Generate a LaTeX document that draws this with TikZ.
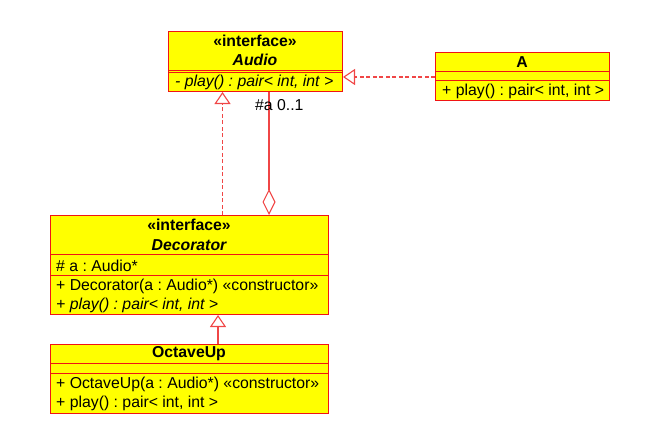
\documentclass[tikz,border=0pt]{standalone}
\usepackage{fontspec}
\setmainfont{Liberation Sans}
\usetikzlibrary{arrows.meta}
\definecolor{umlfill}{RGB}{255,255,0}
\definecolor{umlline}{RGB}{240,20,20}
\definecolor{conn}{RGB}{240,70,70}
\frenchspacing
\begin{document}
\begin{tikzpicture}[x=1pt,y=-1pt,
  box/.style={draw=umlline,fill=umlfill,line width=1pt,inner sep=0pt,anchor=north west},
  sep/.style={draw=umlline,line width=1pt},
  txt/.style={inner sep=0pt,font=\fontsize{15.8}{17}\selectfont},
  ttl/.style={txt,font=\fontsize{15.8}{17}\selectfont\bfseries},
  lft/.style={txt,anchor=west},
  conline/.style={draw=conn,line width=1.1pt},
  gentip/.style={-{Triangle[open,width=16pt,length=12pt]}},
  aggtip/.style={-{Diamond[open,width=13pt,length=26pt]}},
  dsh/.style={dash pattern=on 4pt off 2.5pt}]
\useasboundingbox (0,0) rectangle (650,431);
% boxes
\node[box,minimum width=174pt,minimum height=60pt] (audio) at (168,31) {};
\node[box,minimum width=174pt,minimum height=48pt] (a) at (435,52) {};
\node[box,minimum width=278pt,minimum height=99pt] (decor) at (50,215) {};
\node[box,minimum width=278pt,minimum height=69pt] (octave) at (50,344) {};
% separators
\draw[sep] (audio.west |- 0,70) -- (audio.east |- 0,70);
\draw[sep] (audio.west |- 0,72) -- (audio.east |- 0,72);
\draw[sep] (a.west |- 0,71) -- (a.east |- 0,71);
\draw[sep] (a.west |- 0,80) -- (a.east |- 0,80);
\draw[sep] (decor.west |- 0,254) -- (decor.east |- 0,254);
\draw[sep] (decor.west |- 0,275) -- (decor.east |- 0,275);
\draw[sep] (octave.west |- 0,363) -- (octave.east |- 0,363);
\draw[sep] (octave.west |- 0,373) -- (octave.east |- 0,373);
% Audio texts
\node[ttl] (audiost) at (255,41) {«interface»};
\node[ttl] (audionm) at (255,60) {\itshape Audio};
\node[lft] (audioop) at (175,82) {\itshape - play() : pair< int, int >};
% A texts
\node[ttl] (anm) at (522,62) {A};
\node[lft] (aop) at (442,91) {+ play() : pair< int, int >};
% Decorator texts
\node[ttl] (decst) at (189,225) {«interface»};
\node[ttl] (decnm) at (189,245) {\itshape Decorator};
\node[lft] (decat) at (56,266) {\# a : Audio*};
\node[lft] (decct) at (56,286) {+ Decorator(a : Audio*) «constructor»};
\node[lft] (decop) at (56,305) {\itshape + play() : pair< int, int >};
% OctaveUp texts
\node[ttl] (octnm) at (189,354) {OctaveUp};
\node[lft] (octct) at (56,384) {+ OctaveUp(a : Audio*) «constructor»};
\node[lft] (octop) at (56,403) {+ play() : pair< int, int >};
% connectors
\coordinate (gx) at (222.5,0);
\coordinate (ax) at (269,0);
\coordinate (ox) at (218,0);
\coordinate (ay) at (0,77);
\draw[conline,dsh,gentip] (gx |- decor.north) -- (gx |- audio.south);
\draw[conline,aggtip] (ax |- audio.south) -- (ax |- decor.north);
\draw[conline,dsh,gentip] (a.west |- ay) -- (audio.east |- ay);
\draw[conline,gentip] (ox |- octave.north) -- (ox |- decor.south);
\node[txt,anchor=west] (mult) at (255,105) {\#a 0..1};
\end{tikzpicture}
\end{document}
